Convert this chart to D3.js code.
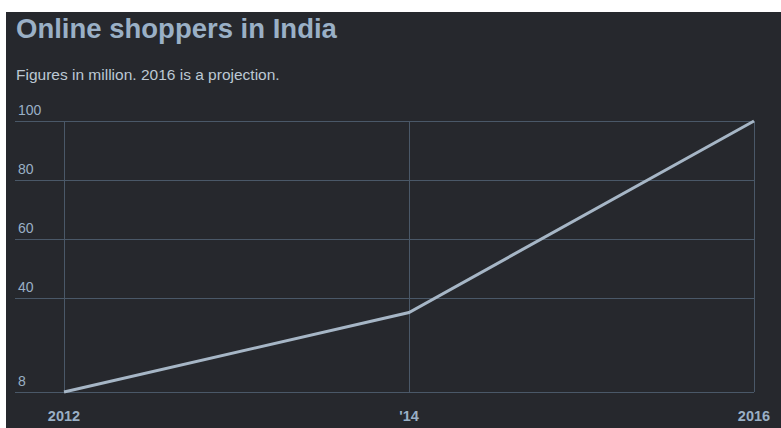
<!DOCTYPE html>
<html>
<head>
<meta charset="utf-8">
<script src="https://cdn.jsdelivr.net/npm/d3@7"></script>
<style>
  html, body { margin: 0; padding: 0; background: #fff; }
  svg { display: block; }
</style>
</head>
<body>
<div id="chart"></div>
<script>
// data
var years = [2012, 2014, 2016];
var shoppers = [8, 35, 100];
var yTicks = [8, 40, 60, 80, 100];
var xLabels = ["2012", "'14", "2016"];

var W = 781, H = 428;
var font = 'Liberation Sans, Arial, sans-serif';
var svg = d3.select('#chart').append('svg')
  .attr('width', W)
  .attr('height', H);

svg.append('rect')
  .attr('x', 6).attr('y', 12)
  .attr('width', W - 6).attr('height', H - 12)
  .style('fill', '#26282d');

svg.append('text')
  .attr('x', 16).attr('y', 38)
  .style('font-family', font)
  .style('font-size', '27.5px')
  .style('font-weight', 'bold')
  .style('fill', '#9ab0c6')
  .text('Online shoppers in India');

svg.append('text')
  .attr('x', 16).attr('y', 80)
  .style('font-family', font)
  .style('font-size', '15.5px')
  .style('fill', '#bcc8d4')
  .text('Figures in million. 2016 is a projection.');

var x = d3.scaleLinear().domain([2012, 2016]).range([64, 754]);
var y = d3.scaleLinear().domain([8, 100]).range([392, 121]);

var grid = svg.append('g');

// horizontal gridlines
grid.selectAll('.hgrid')
  .data(yTicks)
  .enter()
    .append('line')
    .classed('hgrid', true)
    .attr('x1', 15)
    .attr('x2', x(2016))
    .attr('y1', function(d) { return Math.round(y(d)) + 0.5; })
    .attr('y2', function(d) { return Math.round(y(d)) + 0.5; })
    .style('stroke', '#4a5868')
    .style('stroke-width', 1);

// vertical gridlines
grid.selectAll('.vgrid')
  .data(years)
  .enter()
    .append('line')
    .classed('vgrid', true)
    .attr('x1', function(d) { return Math.round(x(d)) + 0.5; })
    .attr('x2', function(d) { return Math.round(x(d)) + 0.5; })
    .attr('y1', y(100))
    .attr('y2', y(8))
    .style('stroke', '#4a5868')
    .style('stroke-width', 1);

// y labels
svg.selectAll('.ylab')
  .data(yTicks)
  .enter()
    .append('text')
    .classed('ylab', true)
    .attr('x', 18)
    .attr('y', function(d) { return y(d) - 6; })
    .style('font-family', font)
    .style('font-size', '14px')
    .style('fill', '#9ab0c6')
    .text(function(d) { return d; });

// x labels
svg.selectAll('.xlab')
  .data(years)
  .enter()
    .append('text')
    .classed('xlab', true)
    .attr('x', function(d) { return x(d); })
    .attr('y', 421)
    .attr('text-anchor', 'middle')
    .style('font-family', font)
    .style('font-size', '14.5px')
    .style('font-weight', 'bold')
    .style('fill', '#9ab0c6')
    .text(function(d, i) { return xLabels[i]; });

// line
var line = d3.line()
  .x(function(d, i) { return x(years[i]); })
  .y(function(d) { return y(d); });

svg.append('path')
  .datum(shoppers)
  .attr('d', line)
  .style('fill', 'none')
  .style('stroke', '#a6b6c6')
  .style('stroke-width', 3);
</script>
</body>
</html>
